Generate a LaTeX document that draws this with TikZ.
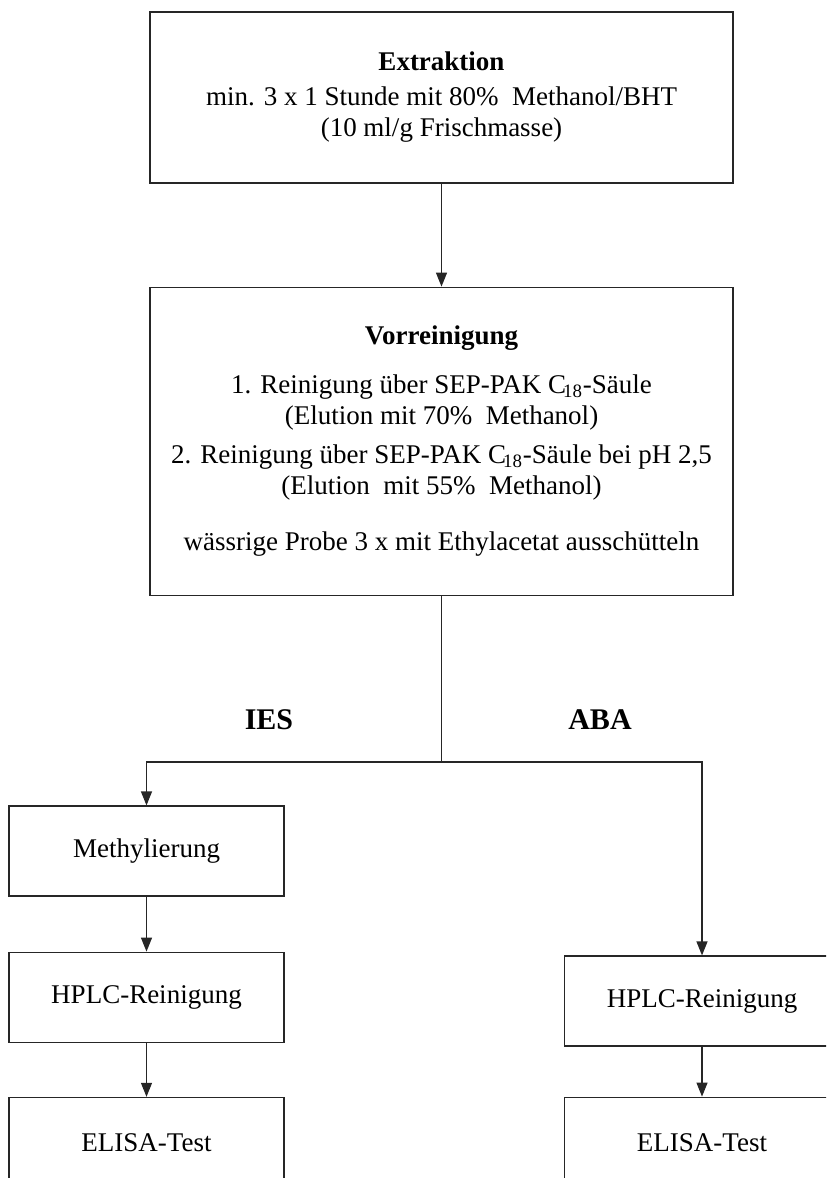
\documentclass[tikz,border=0pt]{standalone}
\usepackage{fontspec}
\setmainfont{Liberation Serif}
\usepackage{tikz}
\usetikzlibrary{arrows.meta}
\usetikzlibrary{positioning}

\begin{document}
\begin{tikzpicture}[x=0.5pt, y=0.5pt,
>={Triangle[length=7pt,width=5.5pt]},
node distance=27.5pt,
mybox/.style={
  rectangle,
  draw=black!85,
  line width=0.6pt,
  align=center,
  font=\fontsize{13.5pt}{15.5pt}\selectfont},
bigbox/.style={mybox, minimum width=291.5pt},
smallbox/.style={mybox, minimum width=137.5pt, minimum height=45pt},
mylabel/.style={font=\fontsize{15pt}{18pt}\selectfont\bfseries},
myline/.style={line width=0.6pt, draw=black!85}
]
\useasboundingbox (0,0) rectangle (826,-1178);
\clip (0,0) rectangle (826,-1178);

\node[bigbox, minimum height=85.5pt] (extr) at (441.5,-97.5)
  {\textbf{Extraktion}\\[2pt] min. 3 x 1 Stunde mit 80\%\ \ Methanol/BHT\\ (10 ml/g Frischmasse)};
\node[bigbox, minimum height=154pt, below=51.5pt of extr] (vorr)
  {\textbf{Vorreinigung}\\[9pt]
   1. Reinigung über SEP-PAK C\kern-1.5pt\textsubscript{18}-Säule\\
   (Elution mit 70\%\ \ Methanol)\\[4pt]
   2. Reinigung über SEP-PAK C\kern-1.5pt\textsubscript{18}-Säule bei pH 2,5\\
   (Elution\ \ mit 55\%\ \ Methanol)\\[12.5pt]
   wässrige Probe 3 x mit Ethylacetat ausschütteln};

\coordinate (split) at (441.5,-762);
\node[mylabel] (ies) at (269,-720) {IES};
\node[mylabel] (aba) at (600,-720) {ABA};

% IES branch
\node[smallbox] (meth) at (146.5,-851) {Methylierung};
\node[smallbox, below=of meth] (hplcl) {HPLC-Reinigung};
\node[smallbox, below=27pt of hplcl] (elisal) {ELISA-Test};

% ABA branch
\node[smallbox] (hplcr) at (702,-1001) {HPLC-Reinigung};
\node[smallbox, below=25pt of hplcr] (elisar) {ELISA-Test};

\draw[myline,->] (extr) -- (vorr);
\draw[myline] (vorr) -- (split);
\draw[myline,->] (split) -| (meth);
\draw[myline,->] (split) -| (hplcr);
\draw[myline,->] (meth) -- (hplcl);
\draw[myline,->] (hplcl) -- (elisal);
\draw[myline,->] (hplcr) -- (elisar);

\end{tikzpicture}
\end{document}
